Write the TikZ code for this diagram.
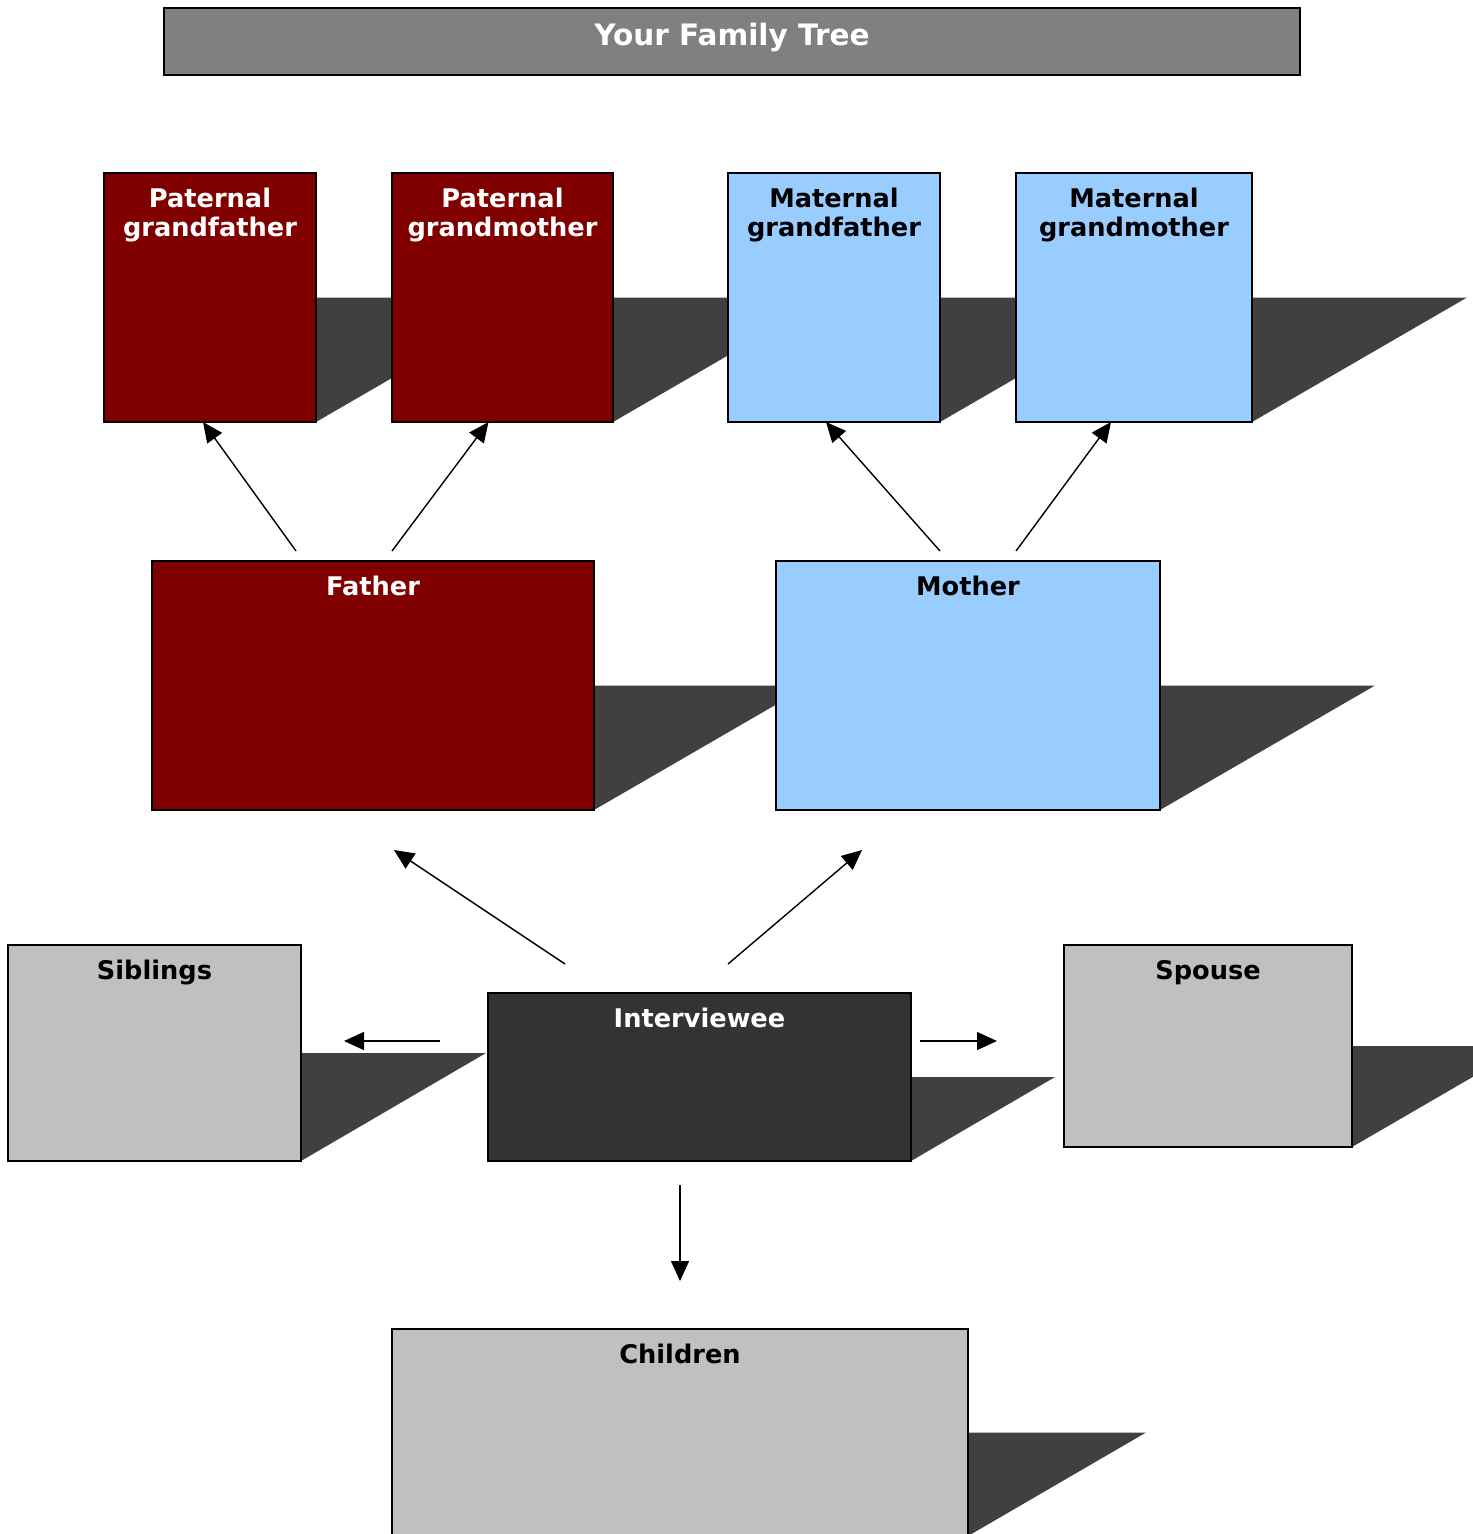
\documentclass[tikz,border=0pt]{standalone}
\usepackage{fontspec}
\setmainfont{DejaVu Sans}
\usepackage{tikz}
\usetikzlibrary{arrows.meta}
\usetikzlibrary{calc}
\usetikzlibrary{backgrounds}
\definecolor{paternal}{HTML}{800000}
\definecolor{maternal}{HTML}{99CCFF}
\definecolor{relative}{HTML}{C0C0C0}
\definecolor{self}{HTML}{333333}
\definecolor{banner}{HTML}{808080}
\definecolor{shadowgray}{HTML}{404040}
\tikzset{
  famBox/.style 2 args={shape=rectangle, draw=black, line width=0.9pt, inner sep=0pt, outer sep=0pt,
    minimum width=#1*0.02cm, minimum height=#2*0.02cm},
  famText/.style={anchor=north, align=center, inner sep=0pt, yshift=-0.3cm,
    font=\bfseries\fontsize{14.6}{16.5}\selectfont},
  arr/.style={-{Triangle[length=0.4cm, width=0.36cm]}, line width=0.8pt}
}

\begin{document}
\begin{tikzpicture}[x=0.02cm, y=-0.02cm]
    \useasboundingbox (0,0) rectangle (1472,1534);

    \node[famBox={1136}{67}, fill=banner] (title) at (732,41.5) {};
    \node[white, font=\bfseries\fontsize{16.8}{18}\selectfont] at ($(title.center)+(0,-4)$) {Your Family Tree};

    \node[famBox={212}{249}, fill=paternal, label={[famText, white]north:Paternal\\grandfather}] (pgf) at (210,297.5) {};
    \node[famBox={221}{249}, fill=paternal, label={[famText, white]north:Paternal\\grandmother}] (pgm) at (502.5,297.5) {};
    \node[famBox={212}{249}, fill=maternal, label={[famText]north:Maternal\\grandfather}] (mgf) at (834,297.5) {};
    \node[famBox={236}{249}, fill=maternal, label={[famText]north:Maternal\\grandmother}] (mgm) at (1134,297.5) {};

    \node[famBox={442}{249}, fill=paternal, label={[famText, white]north:Father}] (father) at (373,685.5) {};
    \node[famBox={384}{249}, fill=maternal, label={[famText]north:Mother}] (mother) at (968,685.5) {};

    \node[famBox={293}{216}, fill=relative, label={[famText]north:Siblings}] (siblings) at (154.5,1053) {};
    \node[famBox={423}{168}, fill=self, label={[famText, white]north:Interviewee}] (interviewee) at (699.5,1077) {};
    \node[famBox={288}{202}, fill=relative, label={[famText]north:Spouse}] (spouse) at (1208,1046) {};
    \node[famBox={576}{207}, fill=relative, label={[famText]north:Children}] (children) at (680,1432.5) {};

    % shadows behind the boxes
    \begin{scope}[on background layer]
    \foreach \b/\s in {pgf/215, pgm/215, mgf/215, mgm/215, father/215, mother/215,
                       siblings/185, interviewee/144, spouse/174, children/178}
        \fill[shadowgray] (\b.east) -- ++(\s,0) -- (\b.south east) -- cycle;
    \end{scope}

    \coordinate (fa1) at (296,551);
    \coordinate (fa2) at (392,551);
    \coordinate (mo1) at (940,551);
    \coordinate (mo2) at (1016,551);
    \draw[arr] (fa1) -- ($(pgf.south)+(-7,0)$);
    \draw[arr] (fa2) -- ($(pgm.south)+(-14,0)$);
    \draw[arr] (mo1) -- ($(mgf.south)+(-8,0)$);
    \draw[arr] (mo2) -- ($(mgm.south)+(-23,0)$);

    \coordinate (iv1) at (565,964);
    \coordinate (iv2) at (728,964);
    \coordinate (fatherin) at (394,850);
    \coordinate (motherin) at (862,850);
    \draw[arr] (iv1) -- (fatherin);
    \draw[arr] (iv2) -- (motherin);

    \coordinate (ivl) at (440,1041);
    \coordinate (sibin) at (344,1041);
    \coordinate (ivr) at (920,1041);
    \coordinate (spin) at (997,1041);
    \coordinate (ivd) at (680,1185);
    \coordinate (chin) at (680,1281);
    \draw[arr] (ivl) -- (sibin);
    \draw[arr] (ivr) -- (spin);
    \draw[arr] (ivd) -- (chin);
\end{tikzpicture}
\end{document}
